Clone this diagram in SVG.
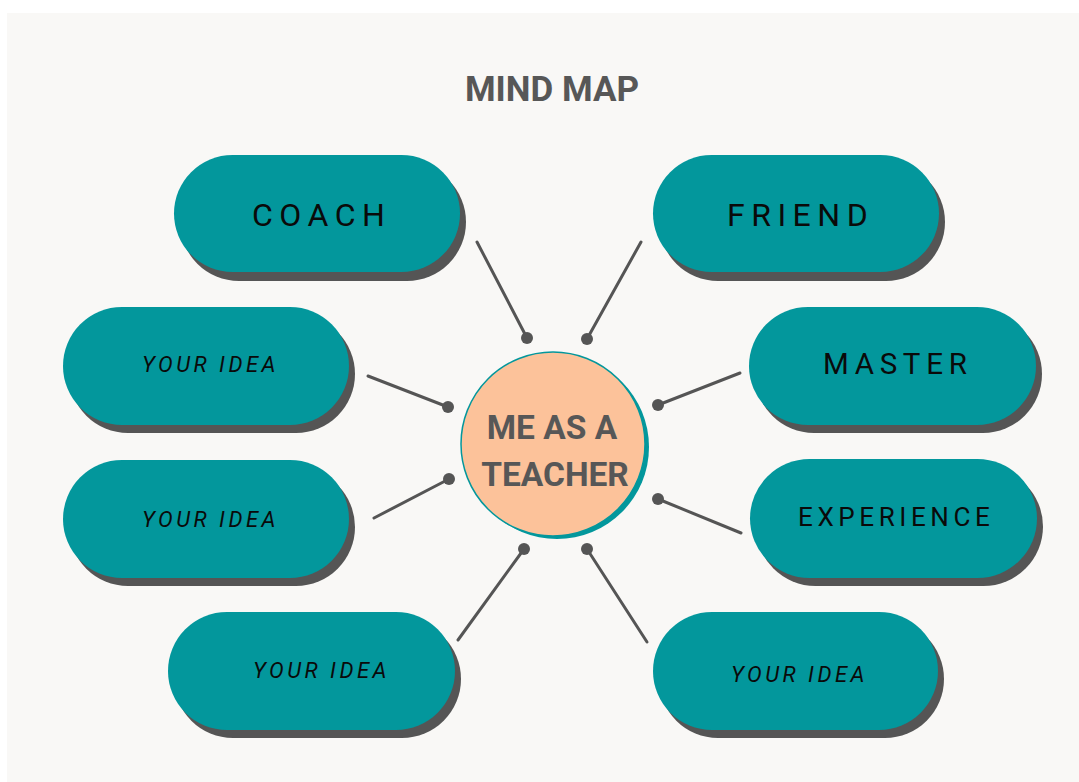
<svg xmlns="http://www.w3.org/2000/svg" width="1079" height="782" viewBox="0 0 1079 782">
<style>
.pill{fill:#03979c}
.sh{fill:#555555}
.lbl{font-family:Roboto,"Liberation Sans",sans-serif;fill:#0a0a0a}
.big{font-size:32px;letter-spacing:6.5px}
.idea{font-size:22px;font-style:italic;letter-spacing:3.5px}
.ctr{font-family:Roboto,"Liberation Sans",sans-serif;font-weight:bold;fill:#575757;text-anchor:middle}
.con line{stroke:#555555;stroke-width:3;stroke-linecap:round}
.con circle{fill:#555555}
</style>
<rect x="0" y="0" width="1079" height="782" fill="#ffffff"/>
<rect x="7" y="13" width="1072" height="769" fill="#f9f8f6"/>
<text x="552" y="101" class="ctr" font-size="35">MIND MAP</text>

<g id="connectors" class="con">
<line x1="477" y1="242" x2="527" y2="338"/><circle cx="527" cy="338" r="6"/>
<line x1="641" y1="242" x2="587" y2="339"/><circle cx="587" cy="339" r="6"/>
<line x1="368" y1="376" x2="448" y2="407"/><circle cx="448" cy="407" r="6"/>
<line x1="740" y1="373" x2="658" y2="405"/><circle cx="658" cy="405" r="6"/>
<line x1="374" y1="518" x2="449" y2="479"/><circle cx="449" cy="479" r="6"/>
<line x1="741" y1="533" x2="658" y2="499"/><circle cx="658" cy="499" r="6"/>
<line x1="458" y1="640" x2="524" y2="549"/><circle cx="524" cy="549" r="6"/>
<line x1="647" y1="642" x2="587" y2="549"/><circle cx="587" cy="549" r="6"/>
</g>

<g id="center">
<circle cx="557" cy="447" r="92" fill="#03979c"/>
<circle cx="553" cy="444" r="92" fill="#fcc29a" stroke="#03979c" stroke-width="1.5"/>
<text x="552" y="439" class="ctr" font-size="33.5">ME AS A</text>
<text x="555" y="486" class="ctr" font-size="33.5">TEACHER</text>
</g>

<g id="coach">
<rect x="180" y="163" width="286" height="118" rx="59" class="sh"/>
<rect x="174" y="155" width="286" height="117" rx="58.5" class="pill"/>
<text x="252" y="226" class="lbl big">COACH</text>
</g>
<g id="friend">
<rect x="659" y="163" width="286" height="118" rx="59" class="sh"/>
<rect x="653" y="155" width="286" height="117" rx="58.5" class="pill"/>
<text x="727" y="226" class="lbl big">FRIEND</text>
</g>
<g id="idea1">
<rect x="69" y="315" width="286" height="118" rx="59" class="sh"/>
<rect x="63" y="307" width="286" height="118" rx="59" class="pill"/>
<text x="142" y="372" class="lbl idea">YOUR IDEA</text>
</g>
<g id="master">
<rect x="755" y="315" width="287" height="118" rx="59" class="sh"/>
<rect x="749" y="307" width="287" height="118" rx="59" class="pill"/>
<text x="823" y="374" class="lbl" font-size="29.5" letter-spacing="5.7">MASTER</text>
</g>
<g id="idea2">
<rect x="69" y="468" width="286" height="118" rx="59" class="sh"/>
<rect x="63" y="460" width="286" height="118" rx="59" class="pill"/>
<text x="142" y="527" class="lbl idea">YOUR IDEA</text>
</g>
<g id="experience">
<rect x="756" y="467" width="287" height="119" rx="59.5" class="sh"/>
<rect x="750" y="459" width="287" height="119" rx="59.5" class="pill"/>
<text x="798" y="526" class="lbl" font-size="26" letter-spacing="4.6">EXPERIENCE</text>
</g>
<g id="idea3">
<rect x="174" y="620" width="287" height="118" rx="59" class="sh"/>
<rect x="168" y="612" width="287" height="118" rx="59" class="pill"/>
<text x="253" y="678" class="lbl idea">YOUR IDEA</text>
</g>
<g id="idea4">
<rect x="659" y="620" width="285" height="118" rx="59" class="sh"/>
<rect x="653" y="612" width="285" height="118" rx="59" class="pill"/>
<text x="731" y="682" class="lbl idea">YOUR IDEA</text>
</g>
</svg>
